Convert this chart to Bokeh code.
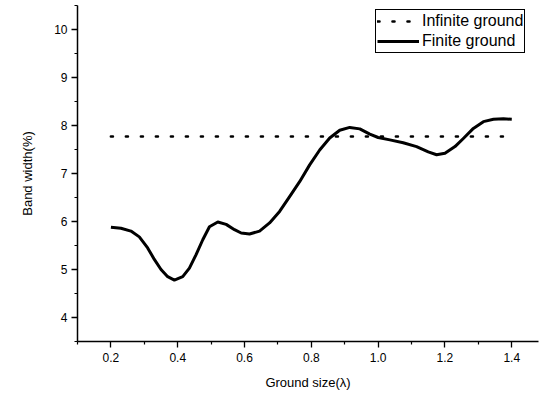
from bokeh.plotting import figure
from bokeh.models import FixedTicker, Range1d, Legend, LegendItem
from bokeh.embed import file_html
from bokeh.resources import INLINE

# Ground size (in wavelengths) and bandwidth (%) for the finite ground plane
ground_size = [0.200, 0.230, 0.260, 0.285, 0.310, 0.330, 0.350, 0.370, 0.390,
               0.415, 0.435, 0.455, 0.475, 0.495, 0.520, 0.545, 0.570, 0.590,
               0.615, 0.645, 0.675, 0.705, 0.735, 0.765, 0.795, 0.825, 0.855,
               0.885, 0.915, 0.945, 0.975, 1.000, 1.035, 1.075, 1.115, 1.150,
               1.175, 1.200, 1.230, 1.255, 1.285, 1.315, 1.345, 1.375, 1.400]
finite_bw = [5.88, 5.86, 5.80, 5.68, 5.45, 5.21, 5.00, 4.85, 4.78,
             4.85, 5.03, 5.31, 5.62, 5.89, 5.99, 5.94, 5.83, 5.76,
             5.74, 5.80, 5.97, 6.21, 6.52, 6.83, 7.18, 7.49, 7.74,
             7.90, 7.96, 7.93, 7.82, 7.75, 7.70, 7.64, 7.56, 7.45,
             7.39, 7.42, 7.56, 7.73, 7.94, 8.08, 8.13, 8.14, 8.13]

# Infinite ground plane reference level
infinite_x = [0.2, 1.4]
infinite_bw = [7.77, 7.77]

x_ticks = [0.2, 0.4, 0.6, 0.8, 1.0, 1.2, 1.4]
x_minor = [0.1, 0.3, 0.5, 0.7, 0.9, 1.1, 1.3]
y_ticks = [4, 5, 6, 7, 8, 9, 10]
y_minor = [3.5, 4.5, 5.5, 6.5, 7.5, 8.5, 9.5, 10.5]

FONT = "Liberation Sans"

p = figure(width=545, height=395, output_backend="svg", toolbar_location=None,
           x_range=Range1d(0.1, 1.48), y_range=Range1d(3.5, 10.5),
           min_border_left=77, min_border_right=7, min_border_top=5,
           min_border_bottom=54)
p.outline_line_color = None
p.xgrid.visible = False
p.ygrid.visible = False

r_inf = p.line(infinite_x, infinite_bw, line_color="black", line_width=2.6,
               line_dash="2 13", line_cap="round")
r_fin = p.line(ground_size, finite_bw, line_color="black", line_width=3,
               line_join="round")

for ax, ticks, minor in ((p.xaxis[0], x_ticks, x_minor), (p.yaxis[0], y_ticks, y_minor)):
    ax.ticker = FixedTicker(ticks=ticks, minor_ticks=minor)
    ax.axis_line_color = "black"
    ax.axis_line_width = 1.5
    ax.major_tick_line_color = "black"
    ax.major_tick_line_width = 1.3
    ax.minor_tick_line_color = "black"
    ax.minor_tick_line_width = 1.2
    ax.major_tick_in = 0
    ax.major_tick_out = 6
    ax.minor_tick_in = 0
    ax.minor_tick_out = 3
    ax.major_label_text_font = FONT
    ax.major_label_text_font_size = "12px"
    ax.major_label_text_color = "black"
    ax.axis_label_text_font = FONT
    ax.axis_label_text_font_size = "13px"
    ax.axis_label_text_font_style = "normal"
    ax.axis_label_text_color = "black"

p.xaxis.axis_label = "Ground size(λ)"
p.yaxis.axis_label = "Band width(%)"
p.xaxis.major_label_standoff = 5
p.yaxis.major_label_standoff = 4
p.xaxis.axis_label_standoff = 10
p.yaxis.axis_label_standoff = 16
p.xaxis.major_label_overrides = {0.2: "0.2", 0.4: "0.4", 0.6: "0.6", 0.8: "0.8",
                                 1.0: "1.0", 1.2: "1.2", 1.4: "1.4"}

legend = Legend(items=[LegendItem(label="Infinite ground", renderers=[r_inf]),
                       LegendItem(label="Finite ground", renderers=[r_fin])],
                location=(298, 288))
legend.label_text_font = FONT
legend.label_text_font_size = "16px"
legend.label_text_color = "black"
legend.border_line_color = "black"
legend.border_line_alpha = 1.0
legend.border_line_width = 1.2
legend.background_fill_color = "white"
legend.background_fill_alpha = 1
legend.padding = 1
legend.spacing = 0
legend.margin = 0
legend.label_height = 20
legend.glyph_height = 20
legend.glyph_width = 42
legend.label_standoff = 3
p.add_layout(legend, "center")

open("out.html", "w").write(file_html(p, INLINE))
